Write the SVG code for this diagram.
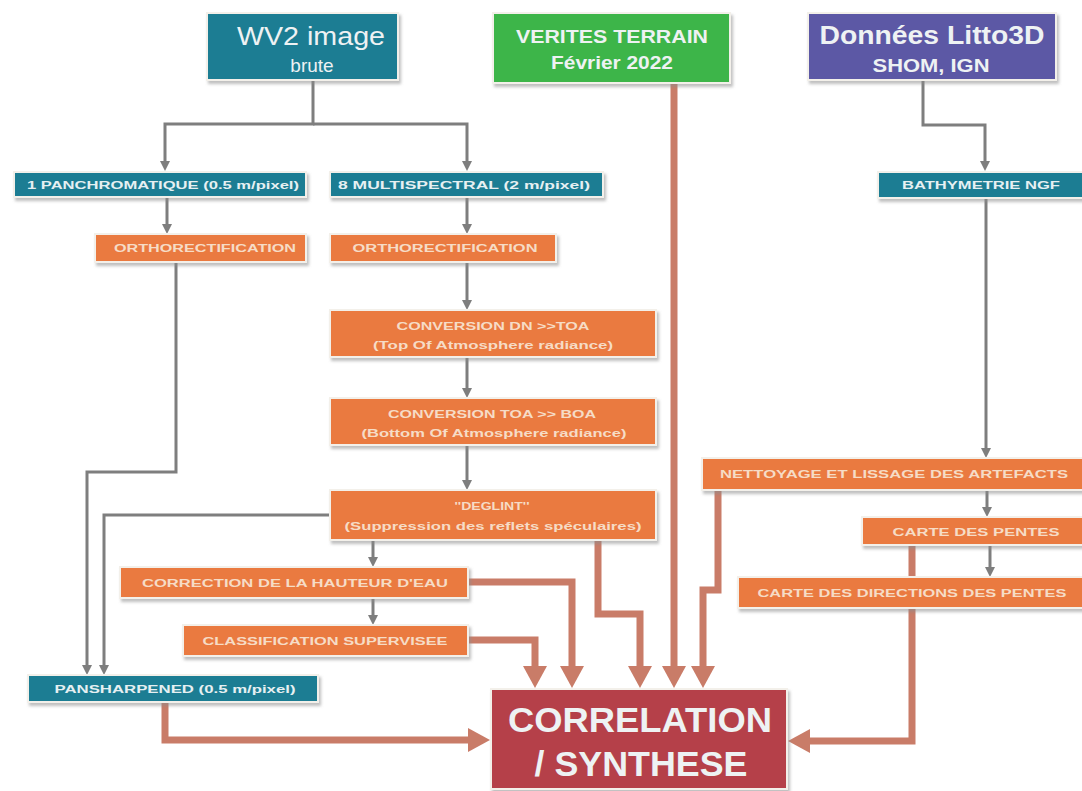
<svg xmlns="http://www.w3.org/2000/svg" width="1082" height="791" viewBox="0 0 1082 791">
<defs>
<style>
.box{stroke:#f3f0ea;stroke-width:2;filter:url(#sh)}
.teal{fill:#1f7d93}
.org{fill:#ea7a3f}
.grn{fill:#3cb54a}
.pur{fill:#5b59a5}
.red{fill:#b5404a}
text{font-family:"Liberation Sans",Arial,sans-serif;font-weight:bold;text-anchor:middle}
.tl{fill:#e6f0f2;font-size:11px}
.ol{fill:#f6dcc6;font-size:11px}
.big{fill:#eef2f3}
.g{fill:none;stroke:#7e7e7e;stroke-width:3}
.s{fill:none;stroke:#c97c68;stroke-width:7}
</style>
<filter id="sh" x="-10%" y="-20%" width="125%" height="150%">
<feDropShadow dx="2" dy="3" stdDeviation="1.5" flood-color="#8a8a8a" flood-opacity="0.55"/>
</filter>
<marker id="ag" markerUnits="userSpaceOnUse" markerWidth="11" markerHeight="12" viewBox="0 -6 11 12" refX="0" refY="0" orient="auto">
<path d="M0,-5 L10,0 L0,5 z" fill="#7e7e7e"/>
</marker>
<marker id="as" markerUnits="userSpaceOnUse" markerWidth="24" markerHeight="26" viewBox="0 -13 24 26" refX="0" refY="0" orient="auto">
<path d="M0,-12 L22,0 L0,12 z" fill="#c97c68"/>
</marker>
</defs>
<rect width="1082" height="791" fill="#ffffff"/>
<g id="connectors">
<path class="g" marker-end="url(#ag)" d="M313,80 V124 H165 V161"/>
<path class="g" marker-end="url(#ag)" d="M313,124 H467 V161"/>
<path class="g" marker-end="url(#ag)" d="M167,197 V224"/>
<path class="g" marker-end="url(#ag)" d="M467,197 V224"/>
<path class="g" marker-end="url(#ag)" d="M467,262 V300"/>
<path class="g" marker-end="url(#ag)" d="M467,357 V388"/>
<path class="g" marker-end="url(#ag)" d="M467,445 V480"/>
<path class="g" marker-end="url(#ag)" d="M373,540 V557"/>
<path class="g" marker-end="url(#ag)" d="M373,598 V615"/>
<path class="g" marker-end="url(#ag)" d="M176,262 V472 H87 V665"/>
<path class="g" marker-end="url(#ag)" d="M330,515 H104 V665"/>
<path class="g" marker-end="url(#ag)" d="M923,80 V125 H985 V161"/>
<path class="g" marker-end="url(#ag)" d="M986,198 V448"/>
<path class="g" marker-end="url(#ag)" d="M987,490 V507"/>
<path class="g" marker-end="url(#ag)" d="M990,545 V567"/>
<path class="s" marker-end="url(#as)" d="M674,83 V666"/>
<path class="s" marker-end="url(#as)" d="M468,640 H535 V666"/>
<path class="s" marker-end="url(#as)" d="M468,582 H572 V666"/>
<path class="s" marker-end="url(#as)" d="M598,540 V614 H640 V666"/>
<path class="s" marker-end="url(#as)" d="M718,490 V590 H703 V666"/>
<path class="s" marker-end="url(#as)" d="M165,702 V740 H468"/>
<path class="s" marker-end="url(#as)" d="M912,545 V741 H810"/>
</g>
<g id="wv2">
<rect class="box teal" x="207" y="13" width="191" height="67"/>
<text class="big" x="311" y="45" font-size="26" textLength="148" lengthAdjust="spacingAndGlyphs" style="font-weight:normal">WV2 image</text>
<text class="big" x="312" y="72" font-size="19" style="font-weight:normal">brute</text>
</g>
<g id="verites">
<rect class="box grn" x="493" y="13" width="237" height="70"/>
<text class="big" x="612" y="43" font-size="18" textLength="192" lengthAdjust="spacingAndGlyphs">VERITES TERRAIN</text>
<text class="big" x="612" y="69" font-size="18" textLength="122" lengthAdjust="spacingAndGlyphs">Février 2022</text>
</g>
<g id="litto">
<rect class="box pur" x="808" y="13" width="248" height="67"/>
<text class="big" x="932" y="44" font-size="25" textLength="225" lengthAdjust="spacingAndGlyphs">Données Litto3D</text>
<text class="big" x="931" y="72" font-size="18" textLength="117" lengthAdjust="spacingAndGlyphs">SHOM, IGN</text>
</g>
<g id="panchro">
<rect class="box teal" x="14" y="172" width="292" height="25"/>
<text class="tl" x="163" y="189" textLength="272" lengthAdjust="spacingAndGlyphs">1 PANCHROMATIQUE  (0.5 m/pixel)</text>
</g>
<g id="multi">
<rect class="box teal" x="330" y="172" width="273" height="25"/>
<text class="tl" x="464" y="189" textLength="252" lengthAdjust="spacingAndGlyphs">8 MULTISPECTRAL  (2 m/pixel)</text>
</g>
<g id="bathy">
<rect class="box teal" x="878" y="172" width="210" height="26"/>
<text class="tl" x="981" y="189" textLength="158" lengthAdjust="spacingAndGlyphs">BATHYMETRIE NGF</text>
</g>
<g id="ortho1">
<rect class="box org" x="95" y="234" width="211" height="28"/>
<text class="ol" x="205" y="252" textLength="182" lengthAdjust="spacingAndGlyphs">ORTHORECTIFICATION</text>
</g>
<g id="ortho2">
<rect class="box org" x="330" y="234" width="226" height="28"/>
<text class="ol" x="445" y="252" textLength="185" lengthAdjust="spacingAndGlyphs">ORTHORECTIFICATION</text>
</g>
<g id="convdn">
<rect class="box org" x="330" y="310" width="326" height="47"/>
<text class="ol" x="493" y="330" textLength="193" lengthAdjust="spacingAndGlyphs">CONVERSION DN &gt;&gt;TOA</text>
<text class="ol" x="493" y="349" textLength="240" lengthAdjust="spacingAndGlyphs">(Top Of Atmosphere radiance)</text>
</g>
<g id="convtoa">
<rect class="box org" x="330" y="398" width="326" height="47"/>
<text class="ol" x="492" y="418" textLength="208" lengthAdjust="spacingAndGlyphs">CONVERSION TOA &gt;&gt; BOA</text>
<text class="ol" x="494" y="437" textLength="265" lengthAdjust="spacingAndGlyphs">(Bottom Of Atmosphere radiance)</text>
</g>
<g id="deglint">
<rect class="box org" x="330" y="490" width="326" height="50"/>
<text class="ol" x="492" y="510" textLength="75" lengthAdjust="spacingAndGlyphs">''DEGLINT''</text>
<text class="ol" x="493" y="530" textLength="297" lengthAdjust="spacingAndGlyphs">(Suppression des reflets spéculaires)</text>
</g>
<g id="correction">
<rect class="box org" x="120" y="567" width="348" height="31"/>
<text class="ol" x="295" y="587" textLength="306" lengthAdjust="spacingAndGlyphs">CORRECTION DE LA HAUTEUR D'EAU</text>
</g>
<g id="classif">
<rect class="box org" x="183" y="625" width="285" height="31"/>
<text class="ol" x="325" y="645" textLength="245" lengthAdjust="spacingAndGlyphs">CLASSIFICATION  SUPERVISEE</text>
</g>
<g id="pansharp">
<rect class="box teal" x="28" y="675" width="290" height="27"/>
<text class="tl" x="175" y="693" textLength="241" lengthAdjust="spacingAndGlyphs">PANSHARPENED  (0.5 m/pixel)</text>
</g>
<g id="nettoyage">
<rect class="box org" x="702" y="458" width="386" height="32"/>
<text class="ol" x="894" y="478" textLength="348" lengthAdjust="spacingAndGlyphs">NETTOYAGE ET LISSAGE DES ARTEFACTS</text>
</g>
<g id="pentes">
<rect class="box org" x="862" y="517" width="226" height="28"/>
<text class="ol" x="976" y="536" textLength="167" lengthAdjust="spacingAndGlyphs">CARTE DES PENTES</text>
</g>
<g id="directions">
<rect class="box org" x="738" y="577" width="350" height="31"/>
<text class="ol" x="912" y="597" textLength="309" lengthAdjust="spacingAndGlyphs">CARTE DES DIRECTIONS DES PENTES</text>
</g>
<g id="correlation">
<rect class="box red" x="491" y="689" width="296" height="100"/>
<text class="big" x="640" y="732" font-size="35" fill="#f3ede6" textLength="264" lengthAdjust="spacingAndGlyphs">CORRELATION</text>
<text class="big" x="641" y="776" font-size="35" fill="#f3ede6" textLength="213" lengthAdjust="spacingAndGlyphs">/ SYNTHESE</text>
</g>
</svg>
